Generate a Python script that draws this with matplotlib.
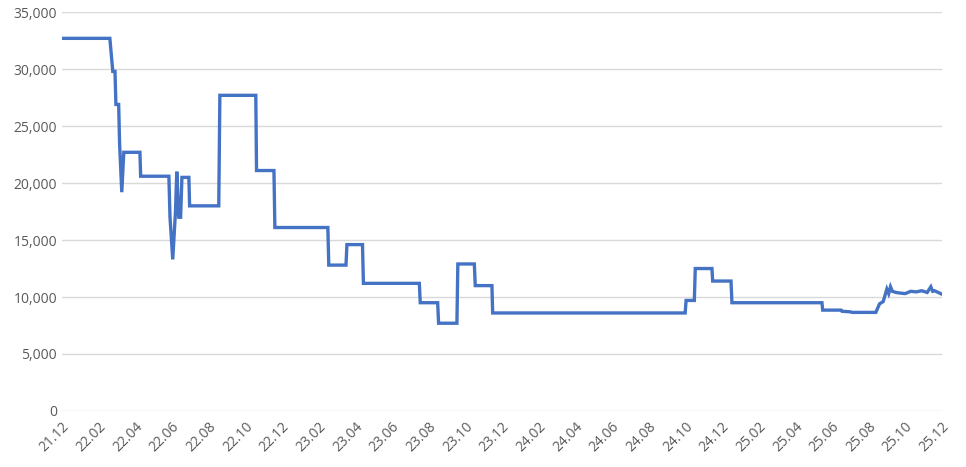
import matplotlib.pyplot as plt
import numpy as np

# x = months since 2021.12, y = value
months = [0, 2.62, 2.78, 2.9, 2.95, 3.1, 3.15, 3.27, 3.38, 4.26, 4.3, 5.84, 5.9, 6.05, 6.2, 6.27, 6.38, 6.48, 6.55,
          6.93, 6.97, 8.56, 8.62, 10.58, 10.62, 11.57, 11.62, 14.51, 14.56, 15.5, 15.55, 16.4, 16.45, 19.5, 19.55,
          20.5, 20.55, 21.55, 21.6, 22.5, 22.55, 23.46, 23.5, 34.0, 34.05, 34.5, 34.55, 35.46, 35.5, 36.5, 36.55,
          41.46, 41.5, 42.5, 42.55, 43.0, 43.1, 44.4, 44.6, 44.8, 45.0, 45.1, 45.2, 45.3, 45.4, 45.5, 45.7,
          46.0, 46.3, 46.6, 46.9, 47.2, 47.4, 47.5, 47.6, 47.8, 48.0]
values = [32700, 32700, 29800, 29800, 26900, 26900, 23500, 19200, 22700, 22700, 20600, 20600, 17000, 13300, 17500,
          21000, 17000, 17000, 20500, 20500, 18000, 18000, 27700, 27700, 21100, 21100, 16100, 16100, 12800, 12800,
          14600, 14600, 11200, 11200, 9500, 9500, 7700, 7700, 12900, 12900, 11000, 11000, 8600, 8600, 9700, 9700,
          12500, 12500, 11400, 11400, 9500, 9500, 8850, 8850, 8750, 8700, 8650, 8650, 9400, 9600, 10700, 10300,
          10900, 10500, 10450, 10400, 10350, 10300, 10500, 10450, 10550, 10400, 10900, 10500, 10550, 10400, 10250]

tick_labels = ['21.12', '22.02', '22.04', '22.06', '22.08', '22.10', '22.12', '23.02', '23.04', '23.06', '23.08',
               '23.10', '23.12', '24.02', '24.04', '24.06', '24.08', '24.10', '24.12', '25.02', '25.04', '25.06',
               '25.08', '25.10', '25.12']

plt.rcParams['font.family'] = ['Open Sans', 'DejaVu Sans']
fig = plt.figure(figsize=(9.66, 4.67), dpi=100)
ax = fig.add_axes([0.064, 0.12, 0.911, 0.854])
ax.plot(months, values, color='#4472C4', lw=2.4, solid_joinstyle='miter')

ax.set_xlim(0, 48)
ax.set_ylim(0, 35000)
ax.set_yticks(np.arange(0, 35001, 5000))
ax.set_yticklabels([f'{v:,}' for v in range(0, 35001, 5000)])
ax.set_xticks(np.arange(0, 49, 2))
ax.set_xticklabels(tick_labels, rotation=45, ha='right', rotation_mode='anchor')
ax.grid(axis='y', color='#d9d9d9', lw=1)
ax.set_axisbelow(True)
for s in ['top', 'right', 'left', 'bottom']:
    ax.spines[s].set_visible(False)
ax.tick_params(length=0, colors='#595959', labelsize=10)
ax.tick_params(axis='x', pad=6)

fig.savefig('out.png')
